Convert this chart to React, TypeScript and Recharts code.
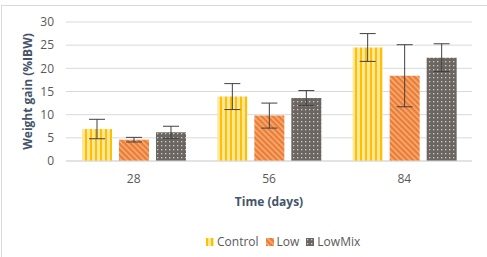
import { BarChart, Bar, XAxis, YAxis, CartesianGrid, Legend, ErrorBar } from 'recharts';

const days = ['28', '56', '84'];
const control = [6.9, 13.9, 24.5];
const controlErr = [2.1, 2.8, 3.0];
const low = [4.6, 9.8, 18.4];
const lowErr = [0.5, 2.7, 6.7];
const lowMix = [6.2, 13.6, 22.3];
const lowMixErr = [1.3, 1.6, 3.0];
const yTicks = [0, 5, 10, 15, 20, 25, 30];

const data = days.map((d, i) => ({
  day: d,
  Control: control[i],
  controlErr: controlErr[i],
  Low: low[i],
  lowErr: lowErr[i],
  LowMix: lowMix[i],
  lowMixErr: lowMixErr[i],
}));

const txt = '#595959';
const titleCol = '#44546A';
const font = 'Open Sans, sans-serif';

const series = [
  { key: 'Control', fill: 'url(#pat-control)' },
  { key: 'Low', fill: 'url(#pat-low)' },
  { key: 'LowMix', fill: 'url(#pat-lowmix)' },
];

// legend with little patterned squares
const LegendBox = () => (
  <div style={{ display: 'flex', justifyContent: 'flex-start', paddingLeft: 206, gap: 7, fontFamily: font, fontSize: 12, color: txt }}>
    {series.map((s) => (
      <span key={s.key} style={{ display: 'flex', alignItems: 'center', gap: 3 }}>
        <svg width={8} height={8}>
          <rect width={8} height={8} fill={s.fill} />
        </svg>
        {s.key}
      </span>
    ))}
  </div>
);

export default function App() {
  return (
    <div style={{ position: 'absolute', left: 0, top: 0, width: 487, height: 257, background: '#fff' }}>
      <div style={{ position: 'absolute', left: 1, top: 5, width: 490, height: 260, border: '1px solid #d9d9d9' }} />
      <BarChart
        width={487}
        height={257}
        data={data}
        margin={{ top: 22, right: 15, left: 0, bottom: 2 }}
        barCategoryGap={16}
        barGap={7}
      >
        <defs>
          <pattern id="pat-control" width={5} height={5} patternUnits="userSpaceOnUse">
            <rect width={5} height={5} fill="#FFE699" />
            <rect x={0} width={2} height={5} fill="#FFC000" />
          </pattern>
          <pattern id="pat-low" width={4} height={4} patternUnits="userSpaceOnUse" patternTransform="rotate(-45)">
            <rect width={4} height={4} fill="#ED7D31" />
            <rect x={0} width={1.4} height={4} fill="#F6B48A" />
          </pattern>
          <pattern id="pat-lowmix" width={4} height={4} patternUnits="userSpaceOnUse">
            <rect width={4} height={4} fill="#6B6661" />
            <rect x={1} y={1} width={1.3} height={1.3} fill="#D0CCC6" />
          </pattern>
        </defs>
        <CartesianGrid vertical={false} stroke="#d9d9d9" />
        <XAxis
          dataKey="day"
          height={72}
          axisLine={{ stroke: '#d9d9d9' }}
          tickLine={false}
          tick={{ fill: txt, fontSize: 12, fontFamily: font }}
          tickMargin={7}
          label={{ value: 'Time (days)', position: 'insideBottom', offset: 27, fill: titleCol, fontSize: 12, fontWeight: 700, fontFamily: font }}
        />
        <YAxis
          width={66}
          domain={[0, 30]}
          ticks={yTicks}
          axisLine={false}
          tickLine={false}
          tick={{ fill: txt, fontSize: 12, fontFamily: font }}
          tickMargin={6}
          label={{ value: 'Weight gain (%IBW)', angle: -90, position: 'insideLeft', offset: 28, fill: titleCol, fontSize: 12, fontWeight: 700, fontFamily: font, style: { textAnchor: 'middle' } }}
        />
        <Legend verticalAlign="bottom" height={22} content={<LegendBox />} />
        <Bar dataKey="Control" fill="url(#pat-control)" isAnimationActive={false}>
          <ErrorBar dataKey="controlErr" width={8} stroke="#404040" strokeWidth={1} />
        </Bar>
        <Bar dataKey="Low" fill="url(#pat-low)" isAnimationActive={false}>
          <ErrorBar dataKey="lowErr" width={8} stroke="#404040" strokeWidth={1} />
        </Bar>
        <Bar dataKey="LowMix" fill="url(#pat-lowmix)" isAnimationActive={false}>
          <ErrorBar dataKey="lowMixErr" width={8} stroke="#404040" strokeWidth={1} />
        </Bar>
      </BarChart>
    </div>
  );
}
